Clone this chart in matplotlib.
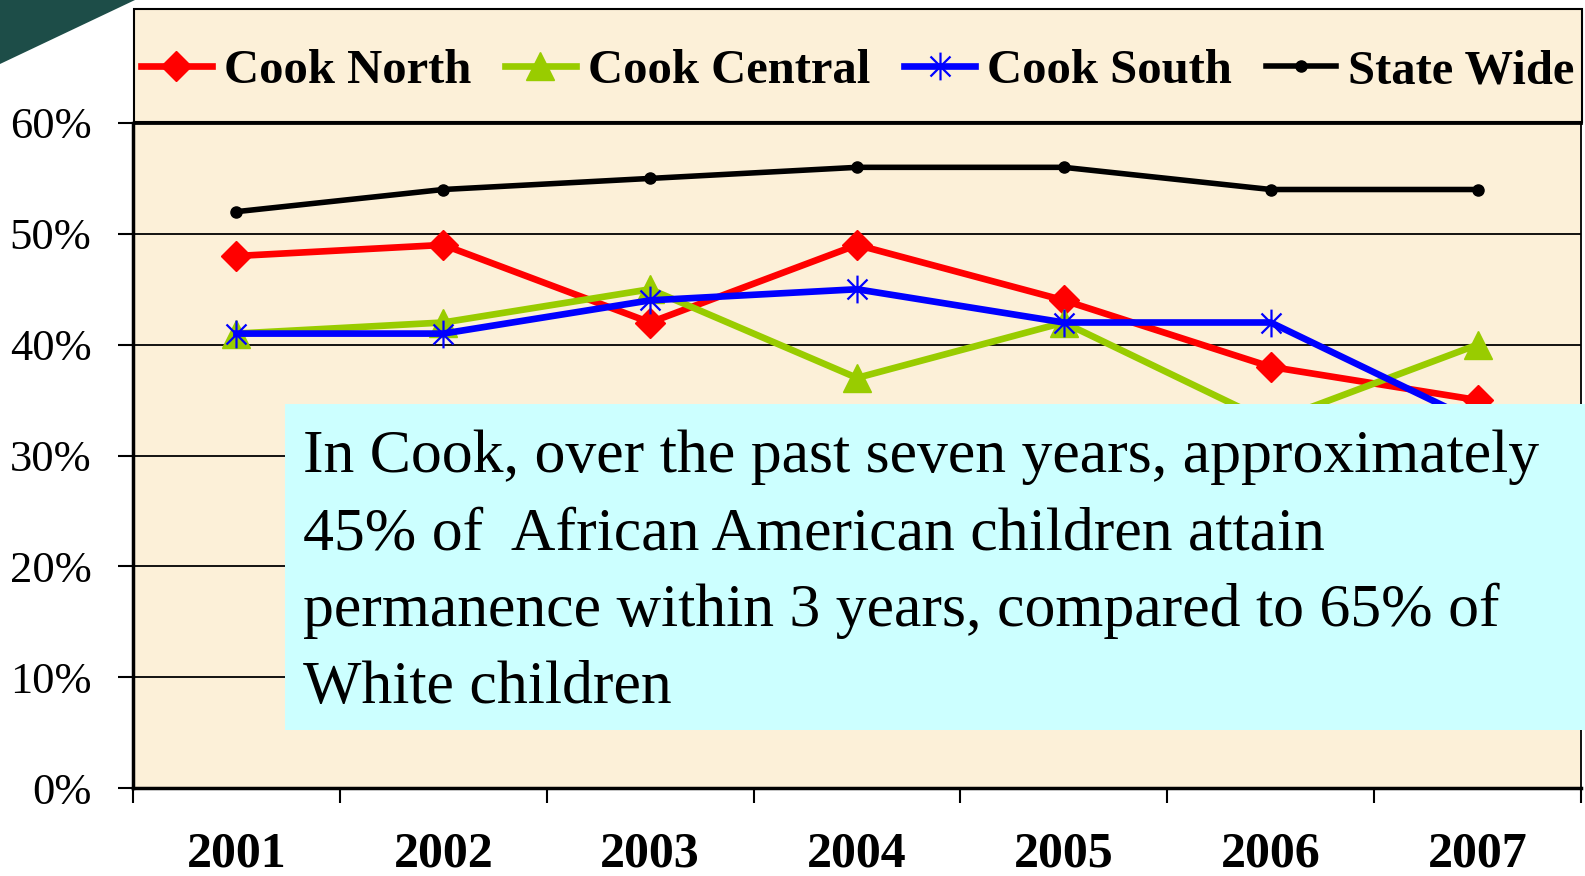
import matplotlib
matplotlib.use("Agg")
import matplotlib.pyplot as plt
from matplotlib.path import Path
from matplotlib.patches import Rectangle, Polygon
import numpy as np

years = ["2001", "2002", "2003", "2004", "2005", "2006", "2007"]
cook_north = [48, 49, 42, 49, 44, 38, 35]
cook_central = [41, 42, 45, 37, 42, 33, 40]
cook_south = [41, 41, 44, 45, 42, 42, 33]
state_wide = [52, 54, 55, 56, 56, 54, 54]
y_ticks = [0, 10, 20, 30, 40, 50, 60]
y_labels = ["0%", "10%", "20%", "30%", "40%", "50%", "60%"]
note_lines = ["In Cook, over the past seven years, approximately",
              "45% of  African American children attain",
              "permanence within 3 years, compared to 65% of",
              "White children"]

W, H = 1585, 876
fig = plt.figure(figsize=(W / 100, H / 100), dpi=100)
fig.patch.set_facecolor("white")
serif = ["Liberation Serif", "DejaVu Serif"]
plt.rcParams["font.family"] = serif

def fx(px):
    return px / W

def fy(py):
    return 1 - py / H

# decorative corner
fig.add_artist(Polygon([(0, 1), (fx(135), 1), (0, fy(64))], closed=True,
                       transform=fig.transFigure, facecolor="#1d4d48",
                       edgecolor="none", zorder=0))

ax = fig.add_axes([fx(133), fy(788), fx(1581) - fx(133), fy(123) - fy(788)])
ax.set_facecolor("#FCF0D8")

x = np.arange(len(years))
star = Path([(0, -1), (0, 1), (-0.72, -0.72), (0.72, 0.72), (-0.72, 0.72), (0.72, -0.72)],
            [Path.MOVETO, Path.LINETO, Path.MOVETO, Path.LINETO, Path.MOVETO, Path.LINETO])

l1, = ax.plot(x, cook_north, color="#FF0000", lw=4.8, marker="D", ms=15,
              mec="#FF0000", label="Cook North", zorder=3)
l2, = ax.plot(x, cook_central, color="#99CC00", lw=4.8, marker="^", ms=20,
              mec="#99CC00", label="Cook Central", zorder=4)
l3, = ax.plot(x, cook_south, color="#0000FF", lw=4.8, marker=star, ms=20,
              mec="#0000FF", mew=1.6, label="Cook South", zorder=5)
l4, = ax.plot(x, state_wide, color="black", lw=4.0, marker="o", ms=8,
              label="State Wide", zorder=6)

ax.set_xlim(-0.5, len(years) - 0.5)
ax.set_ylim(0, 60)
ax.set_yticks(y_ticks)
ax.set_yticklabels(y_labels, fontsize=32)
ax.tick_params(axis="y", direction="out", length=11, width=1.5, pad=19)
ax.set_xticks(x)
ax.set_xticklabels(years, fontsize=36, fontweight="bold")
ax.set_xticks(np.arange(len(years) + 1) - 0.5, minor=True)
ax.tick_params(axis="x", which="major", length=0, pad=31)
ax.tick_params(axis="x", which="minor", direction="out", length=11, width=1.5)
for v in y_ticks[1:-1]:
    ax.axhline(v, color="black", lw=1.3, zorder=1)
ax.spines["left"].set_linewidth(2.5)
ax.spines["bottom"].set_linewidth(2.5)
ax.spines["top"].set_linewidth(2.0)
ax.spines["right"].set_linewidth(1.3)

# legend box
fig.add_artist(Rectangle((fx(134), fy(122)), fx(1582) - fx(134), fy(9) - fy(122),
                         transform=fig.transFigure, facecolor="#FCF0D8",
                         edgecolor="black", lw=1.5, zorder=1))
leg = fig.legend(handles=[l1, l2, l3, l4], loc="center",
                 bbox_to_anchor=((fx(134) + fx(1582)) / 2, fy(71)),
                 ncol=4, frameon=False, handlelength=1.45, handletextpad=0.25,
                 columnspacing=0.7,
                 prop={"family": serif, "weight": "bold", "size": 35})
leg.set_zorder(2)

# note box
fig.add_artist(Rectangle((fx(285), fy(730)), fx(1585) - fx(285), fy(404) - fy(730),
                         transform=fig.transFigure, facecolor="#CCFFFF",
                         edgecolor="none", zorder=10))
for i, line in enumerate(note_lines):
    fig.text(fx(303), fy(472 + 77 * i), line, ha="left", va="baseline",
             fontsize=44.5, color="black", zorder=11, family=serif)

fig.savefig("out.png", dpi=100)
